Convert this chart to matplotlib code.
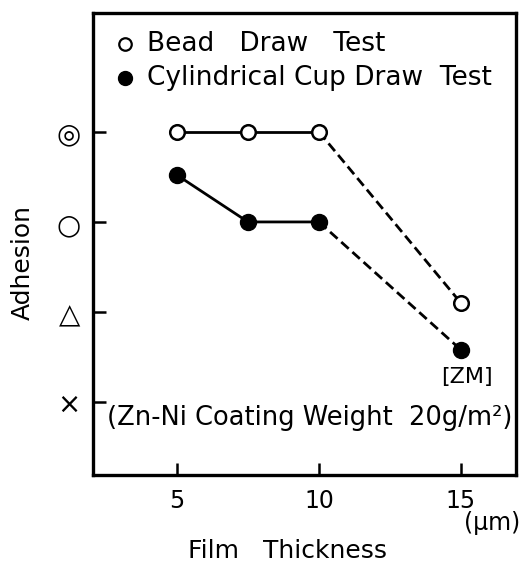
import matplotlib.pyplot as plt

plt.rcParams['font.family'] = ['DejaVu Sans']

# data
thickness_solid = [5, 7.5, 10]
bead_solid = [4, 4, 4]
cup_solid = [3.52, 3, 3]
thickness_dash = [10, 15]
bead_dash = [4, 2.1]
cup_dash = [3, 1.58]

ytick_vals = [1, 2, 3, 4]
ytick_labels = ['×', '△', '○', '◎']
xtick_vals = [5, 10, 15]
xtick_labels = ['5', '10', '15']

fig = plt.figure(figsize=(5.29, 5.63), dpi=100)
ax = fig.add_axes([0.1758, 0.1563, 0.7996, 0.8206])

# bead draw test (open circles)
ax.plot(thickness_solid, bead_solid, '-', color='black', lw=2, zorder=2)
ax.plot(thickness_dash, bead_dash, '--', color='black', lw=2, dashes=(3.6, 1.8), zorder=2)
ax.plot(thickness_solid + [15], bead_solid + [bead_dash[1]], 'o', ls='none',
        mfc='white', mec='black', mew=1.8, ms=10.5, zorder=3)

# cylindrical cup draw test (filled)
ax.plot(thickness_solid, cup_solid, '-', color='black', lw=2, zorder=2)
ax.plot(thickness_dash, cup_dash, '--', color='black', lw=2, dashes=(3.6, 1.8), zorder=2)
ax.plot(thickness_solid + [15], cup_solid + [cup_dash[1]], 'o', ls='none',
        mfc='black', mec='black', ms=11.5, zorder=3)

ax.set_xlim(2.04, 16.94)
ax.set_ylim(0.19, 5.32)

ax.set_xticks(xtick_vals)
ax.set_xticklabels(xtick_labels, fontsize=17)
ax.set_yticks(ytick_vals)
ax.set_yticklabels(ytick_labels, fontsize=20)
ax.tick_params(direction='in', length=9, width=1.8)
ax.tick_params(axis='x', pad=10)
ax.tick_params(axis='y', pad=9)
for s in ax.spines.values():
    s.set_linewidth(2.4)

fig.text(0.043, 0.533, 'Adhesion', fontsize=18, rotation=90, ha='center', va='center')
fig.text(0.543, 0.022, 'Film   Thickness', fontsize=18, ha='center', va='center')
fig.text(0.983, 0.071, '(µm)', fontsize=17, ha='right', va='center')

# legend drawn inside the box
ax.plot([3.17], [4.98], 'o', mfc='white', mec='black', mew=1.6, ms=9, clip_on=False)
ax.plot([3.17], [4.6], 'o', mfc='black', mec='black', ms=10, clip_on=False)
ax.text(3.95, 4.98, 'Bead   Draw   Test', fontsize=19, va='center')
ax.text(3.95, 4.6, 'Cylindrical Cup Draw  Test', fontsize=19, va='center')

ax.text(15.2, 1.28, '[ZM]', fontsize=16, ha='center', va='center')
ax.text(2.55, 0.82, '(Zn-Ni Coating Weight  20g/m²)', fontsize=18.5, va='center')

fig.savefig('out.png', dpi=100)
